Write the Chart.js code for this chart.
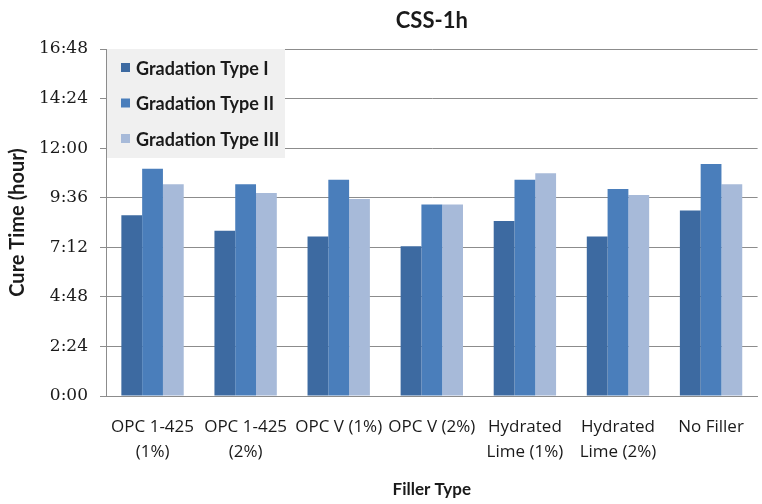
<!DOCTYPE html>
<html>
<head>
<meta charset="utf-8">
<script src="https://cdn.jsdelivr.net/npm/chart.js@4/dist/chart.umd.min.js"></script>
<style>
  html, body { margin: 0; padding: 0; background: #fff; }
  #wrap { width: 762px; height: 504px; }
</style>
</head>
<body>
<div id="wrap"><canvas id="c" width="762" height="504"></canvas></div>
<script>
// Filler types on the x axis (multi-line labels)
const categories = [
  ['OPC 1-425', '(1%)'],
  ['OPC 1-425', '(2%)'],
  ['OPC V (1%)'],
  ['OPC V (2%)'],
  ['Hydrated', 'Lime (1%)'],
  ['Hydrated', 'Lime (2%)'],
  ['No Filler']
];

const seriesNames = ['Gradation Type I', 'Gradation Type II', 'Gradation Type III'];

// Cure times, h:mm
const gradationI   = ['8:45', '8:00', '7:43', '7:15', '8:28', '7:43', '8:59'];
const gradationII  = ['11:00', '10:15', '10:28', '9:16', '10:28', '10:01', '11:14'];
const gradationIII = ['10:15', '9:50', '9:32', '9:16', '10:47', '9:44', '10:15'];

// Y axis ticks, h:mm
const yTicks = ['0:00', '2:24', '4:48', '7:12', '9:36', '12:00', '14:24', '16:48'];

const chartTitle = 'CSS-1h';
const colors = ['#3d6aa1', '#4a7ebb', '#a7bad9'];

const toMin = s => { const [h, m] = s.split(':').map(Number); return h * 60 + m; };
const fmt = v => { const t = Math.round(v); return Math.floor(t / 60) + ':' + String(t % 60).padStart(2, '0'); };

const yVals = yTicks.map(toMin);
const SANS = 'Lato, "Open Sans", sans-serif';
const TEXT = '#1a1a1a';

// Title centred over the plot area, legend inside the plot on a light grey panel
const overlay = {
  id: 'overlay',
  afterDatasetsDraw(chart) {
    const { ctx, chartArea } = chart;
    ctx.save();
    ctx.fillStyle = TEXT;
    ctx.font = 'bold 22px ' + SANS;
    ctx.textAlign = 'center';
    ctx.textBaseline = 'middle';
    ctx.fillText(chartTitle, (chartArea.left + chartArea.right) / 2, 21);

    const x0 = chartArea.left + 1, y0 = chartArea.top;
    ctx.fillStyle = '#f0f0f0';
    ctx.fillRect(x0, y0, 178, 109);
    ctx.font = 'bold 18px ' + SANS;
    ctx.textAlign = 'left';
    chart.data.datasets.forEach((ds, i) => {
      const cy = y0 + 19 + i * 35.5;
      ctx.fillStyle = ds.backgroundColor;
      ctx.fillRect(x0 + 14, cy - 5, 9, 9);
      ctx.fillStyle = TEXT;
      ctx.fillText(ds.label, x0 + 29, cy + 1);
    });
    ctx.restore();
  }
};

new Chart(document.getElementById('c'), {
  type: 'bar',
  data: {
    labels: categories,
    datasets: [gradationI, gradationII, gradationIII].map((arr, i) => ({
      label: seriesNames[i],
      data: arr.map(toMin),
      backgroundColor: colors[i],
      borderWidth: 0,
      barPercentage: 1.0,
      categoryPercentage: 0.67
    }))
  },
  options: {
    responsive: false,
    animation: false,
    devicePixelRatio: 1,
    layout: { padding: { top: 49, right: 2, left: 0, bottom: 0 } },
    plugins: {
      legend: { display: false },
      tooltip: { enabled: false },
      title: { display: false }
    },
    scales: {
      x: {
        afterFit(scale) { scale.height = 108; },
        grid: { display: false, drawTicks: false },
        border: { color: '#8c8c8c', width: 1 },
        ticks: {
          color: TEXT,
          font: { family: '"Open Sans", sans-serif', size: 17, lineHeight: 1.5 },
          maxRotation: 0,
          autoSkip: false,
          padding: 18
        },
        title: {
          display: true,
          text: 'Filler Type',
          color: TEXT,
          font: { family: SANS, size: 17, weight: 'bold' },
          padding: { top: 0, bottom: 4 }
        }
      },
      y: {
        min: yVals[0],
        max: yVals[yVals.length - 1],
        afterFit(scale) { scale.width = 106; },
        afterBuildTicks(scale) {
          scale.ticks = yVals.map(v => ({ value: v }));
        },
        grid: {
          color: '#8c8c8c',
          lineWidth: 1,
          drawTicks: true,
          tickLength: 6
        },
        border: { color: '#8c8c8c', width: 1 },
        ticks: {
          color: TEXT,
          font: { family: '"DejaVu Serif", serif', size: 17 },
          padding: 12,
          callback: v => fmt(v)
        },
        title: {
          display: true,
          text: 'Cure Time (hour)',
          color: TEXT,
          font: { family: SANS, size: 20, weight: 'bold' },
          padding: { top: 6, bottom: 0 }
        }
      }
    }
  },
  plugins: [overlay]
});
</script>
</body>
</html>
